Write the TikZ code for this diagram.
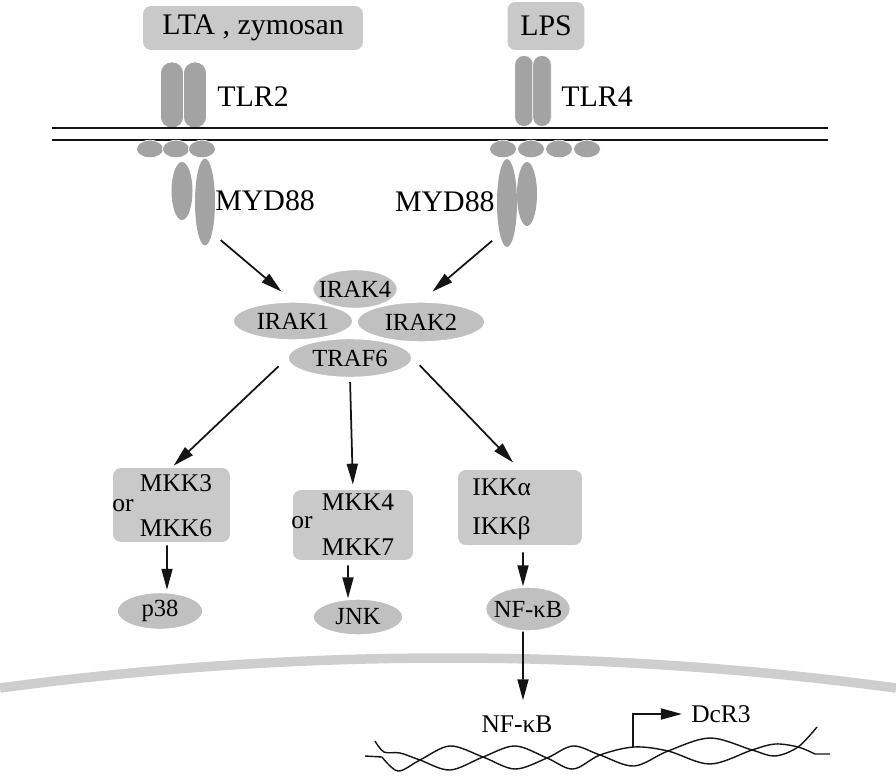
\documentclass[tikz,border=0pt]{standalone}
\usepackage{fontspec}
\setmainfont{Liberation Serif}
\usetikzlibrary{arrows.meta, shapes.geometric}
\definecolor{BG}{RGB}{201,201,201}
\definecolor{RG}{RGB}{163,163,163}
\definecolor{KG}{RGB}{192,192,192}
\definecolor{NG}{RGB}{206,206,206}
\definecolor{DK}{RGB}{20,20,20}

\begin{document}
\begin{tikzpicture}[x=0.02cm, y=-0.02cm,
  lig/.style={fill=BG, rounded corners=0.16cm, inner sep=0pt,
              font=\fontsize{17}{20}\selectfont},
  tlr/.style={fill=RG, draw=white, line width=0.4pt, inner sep=0pt},
  dot/.style={ellipse, fill=RG, draw=white, line width=0.4pt, inner sep=0pt,
              minimum width=0.54cm, minimum height=0.35cm},
  myd/.style={ellipse, fill=RG, inner sep=0pt},
  lab/.style={inner sep=0pt, font=\fontsize{17}{20}\selectfont},
  kin/.style={ellipse, fill=KG, draw=white, line width=0.8pt,
              inner xsep=-0.2cm, inner ysep=0pt,
              font=\fontsize{14}{16}\selectfont},
  mbox/.style={fill=BG, rounded corners=0.16cm, inner sep=0pt},
  txt/.style={inner sep=0pt, font=\fontsize{14.5}{17}\selectfont},
  arr/.style={-{Triangle[length=0.42cm, width=0.22cm]}, line width=1pt, draw=DK},
  mem/.style={line width=1.1pt, draw=DK},
  dna/.style={line width=0.8pt, draw=DK}
]
\useasboundingbox (0,0) rectangle (896,777);

% Ligands
\node[lig, minimum width=4.4cm, minimum height=0.88cm] (lta) at (253,28) {LTA , zymosan};
\node[lig, minimum width=1.54cm, minimum height=0.96cm] (lps) at (546,26) {LPS};

% Receptors
\node[tlr, rounded corners=0.22cm, minimum width=0.46cm, minimum height=1.32cm] (tlr2a) at (172,95) {};
\node[tlr, rounded corners=0.22cm, minimum width=0.46cm, minimum height=1.32cm] (tlr2b) at (195,95) {};
\node[lab, anchor=west] (tlr2) at (217,97) {TLR2};
\node[tlr, rounded corners=0.18cm, minimum width=0.37cm, minimum height=1.42cm] (tlr4a) at (524,91) {};
\node[tlr, rounded corners=0.18cm, minimum width=0.37cm, minimum height=1.42cm] (tlr4b) at (542,91) {};
\node[lab, anchor=west] (tlr4) at (561,97) {TLR4};

% Membrane
\draw[mem] (52,128) -- (828,128);
\draw[mem] (52,140) -- (828,140);

% TIR domains
\node[dot] (tirA) at (150,149) {};
\node[dot] (tirB) at (176,149) {};
\node[dot] (tirC) at (202,149) {};
\node[dot] (tirD) at (503,149) {};
\node[dot] (tirE) at (531,149) {};
\node[dot] (tirF) at (559,149) {};
\node[dot] (tirG) at (587,149) {};

% MYD88
\node[myd, minimum width=0.42cm, minimum height=1.16cm] (mydA) at (182,191) {};
\node[myd, minimum width=0.40cm, minimum height=1.74cm] (mydB) at (205,202) {};
\node[lab, anchor=west] (myd88l) at (215,201) {MYD88};
\node[myd, minimum width=0.40cm, minimum height=1.76cm] (mydC) at (507,203) {};
\node[myd, minimum width=0.40cm, minimum height=1.28cm] (mydD) at (527,194) {};
\node[lab, anchor=east] (myd88r) at (495,202) {MYD88};

% IRAK / TRAF6 complex
\node[kin, minimum width=2.40cm, minimum height=0.76cm] (irak1) at (293,321) {IRAK1};
\node[kin, minimum width=2.56cm, minimum height=0.80cm] (irak2) at (421,322) {IRAK2};
\node[kin, minimum width=1.70cm, minimum height=0.78cm] (irak4) at (355,289) {IRAK4};
\node[kin, minimum width=2.48cm, minimum height=0.78cm] (traf6) at (350,358) {TRAF6};

\draw[arr, shorten <=0.22cm, shorten >=0.3cm] (mydB.south east) -- (irak1.north);
\draw[arr, shorten <=0.2cm, shorten >=0.3cm] (mydC.south west) -- (irak2.north);

% Kinase boxes
\node[mbox, minimum width=2.34cm, minimum height=1.48cm] (mkk3) at (171.5,505) {};
\node[txt] (mkk3t) at (176,483) {MKK3};
\node[txt] (or1) at (123,506) {or};
\node[txt] (mkk6t) at (176,528) {MKK6};

\node[mbox, minimum width=2.40cm, minimum height=1.40cm] (mkk4) at (353,525) {};
\node[txt] (mkk4t) at (358,502) {MKK4};
\node[txt] (or2) at (302,523) {or};
\node[txt] (mkk7t) at (358,547) {MKK7};

\node[mbox, minimum width=2.48cm, minimum height=1.50cm] (ikk) at (520,507.5) {};
\node[txt, anchor=west] (ikka) at (472,487) {IKKα};
\node[txt, anchor=west] (ikkb) at (472,528) {IKKβ};

\draw[arr, shorten <=0.24cm, shorten >=0.06cm] (traf6.west) -- (mkk3.north);
\draw[arr, shorten <=0.08cm, shorten >=0.1cm] (traf6.south) -- (mkk4.north);
\draw[arr, shorten <=0.2cm, shorten >=0.2cm] (traf6.east) -- (ikk.north);

% MAPK / NF-kB
\node[kin, minimum width=1.72cm, minimum height=0.74cm] (p38) at (160,611) {p38};
\node[kin, minimum width=1.80cm, minimum height=0.72cm] (jnk) at (358,617) {JNK};
\node[kin, minimum width=1.70cm, minimum height=0.88cm] (nfkb) at (528,609) {NF-κB};

\draw[arr, shorten <=0.06cm, shorten >=0.04cm] ([xshift=-0.09cm]mkk3.south) -- ([xshift=0.14cm]p38.north);
\draw[arr, shorten <=0.1cm] ([xshift=-0.1cm]mkk4.south) -- ([xshift=-0.2cm]jnk.north);
\draw[arr, shorten <=0.14cm] ([xshift=0.06cm]ikk.south) -- ([xshift=-0.1cm]nfkb.north);

% Nucleus
\draw[line width=0.19cm, draw=NG] (0,688) .. controls (298,648) and (598,648) .. (896,688);

\node[txt] (nfkbn) at (517,724) {NF-κB};
\draw[arr, shorten >=0.3cm] ([xshift=-0.1cm]nfkb.south) -- ([xshift=0.12cm]nfkbn.north);

% DNA
\draw[dna] (365,756) -- (382,757) plot[smooth, tension=0.55] coordinates {
  (382,757) (398,771) (420,760) (450,746) (483,757) (515,769) (547,758)
  (573,746) (600,755) (634,766) (668,751) (710,738) (752,750) (775,756)
  (798,747) (817,727)};
\draw[dna] plot[smooth, tension=0.55] coordinates {
  (375,741) (384,752) (400,753) (420,760) (450,770) (483,757) (515,746)
  (547,758) (573,769) (600,755) (634,747) (668,751) (710,764) (752,750)
  (775,744) (798,747) (815,754)} -- (830,754);

\coordinate (tss) at (633,747);
\node[txt] (dcr3) at (721,714) {DcR3};
\draw[arr, shorten >=0.18cm] (tss) |- (dcr3.west);
\end{tikzpicture}
\end{document}
